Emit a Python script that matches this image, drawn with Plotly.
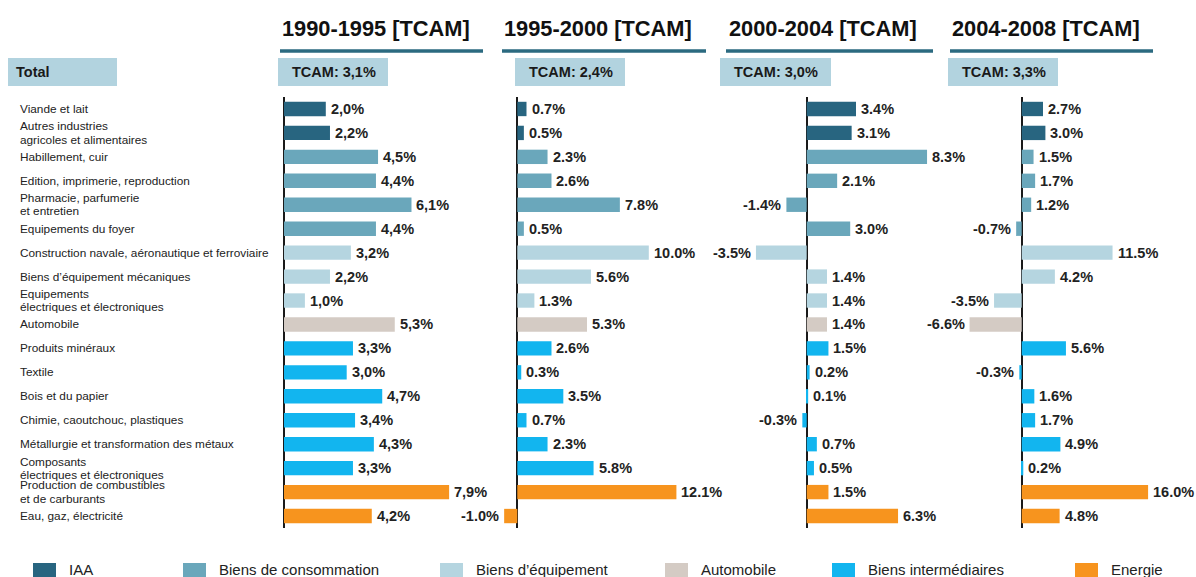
import plotly.graph_objects as go

W, H = 1196, 577

categories = [
    "Viande et lait",
    "Autres industries<br>agricoles et alimentaires",
    "Habillement, cuir",
    "Edition, imprimerie, reproduction",
    "Pharmacie, parfumerie<br>et entretien",
    "Equipements du foyer",
    "Construction navale, aéronautique et ferroviaire",
    "Biens d’équipement mécaniques",
    "Equipements<br>électriques et électroniques",
    "Automobile",
    "Produits minéraux",
    "Textile",
    "Bois et du papier",
    "Chimie, caoutchouc, plastiques",
    "Métallurgie et transformation des métaux",
    "Composants<br>électriques et électroniques",
    "Production de combustibles<br>et de carburants",
    "Eau, gaz, électricité",
]
# group index of each category
groups = [0, 0, 1, 1, 1, 1, 2, 2, 2, 3, 4, 4, 4, 4, 4, 4, 5, 5]

group_names = ["IAA", "Biens de consommation", "Biens d’équipement",
               "Automobile", "Biens intermédiaires", "Energie"]
group_colors = ["#286580", "#6aa7bb", "#b5d5e0", "#d4cbc4", "#12b5ef", "#f7941e"]

periods = ["1990-1995 [TCAM]", "1995-2000 [TCAM]", "2000-2004 [TCAM]", "2004-2008 [TCAM]"]
tcam_total = ["TCAM: 3,1%", "TCAM: 2,4%", "TCAM: 3,0%", "TCAM: 3,3%"]

v_1990_1995 = [2.0, 2.2, 4.5, 4.4, 6.1, 4.4, 3.2, 2.2, 1.0, 5.3, 3.3, 3.0, 4.7, 3.4, 4.3, 3.3, 7.9, 4.2]
v_1995_2000 = [0.7, 0.5, 2.3, 2.6, 7.8, 0.5, 10.0, 5.6, 1.3, 5.3, 2.6, 0.3, 3.5, 0.7, 2.3, 5.8, 12.1, -1.0]
v_2000_2004 = [3.4, 3.1, 8.3, 2.1, -1.4, 3.0, -3.5, 1.4, 1.4, 1.4, 1.5, 0.2, 0.1, -0.3, 0.7, 0.5, 1.5, 6.3]
v_2004_2008 = [2.7, 3.0, 1.5, 1.7, 1.2, -0.7, 11.5, 4.2, -3.5, -6.6, 5.6, -0.3, 1.6, 1.7, 4.9, 0.2, 16.0, 4.8]
series = [v_1990_1995, v_1995_2000, v_2000_2004, v_2004_2008]
decimal_sep = [",", ".", ".", "."]

# ---- layout geometry (pixels) ----
FONT = "Arial, Liberation Sans, sans-serif"
zero_px = [284.0, 517.3, 806.7, 1021.7]
px_per_unit = [20.9, 13.15, 14.5, 7.9]
dom_px = [(262, 498), (499, 703), (704, 941), (942, 1196)]
y_top, y_bot = 97.0, 528.0
title_x = [280, 502, 727, 950]
line_x = [(280, 483), (502, 706), (726, 933), (950, 1153)]
box_x = [(278, 388), (515, 625), (720, 831), (948, 1058)]


def px(x):
    return x / W


def py(y):
    return 1 - y / H


n = len(categories)
rows = list(range(n))
bar_colors = [group_colors[g] for g in groups]

fig = go.Figure()
annotations = []
shapes = []
layout_axes = {}

for i, vals in enumerate(series):
    sfx = "" if i == 0 else str(i + 1)
    fig.add_trace(go.Bar(
        x=vals, y=rows, orientation="h", width=0.6,
        marker=dict(color=bar_colors, line=dict(width=0)),
        xaxis="x" + sfx, yaxis="y" + sfx, hoverinfo="skip", showlegend=False,
    ))
    d0, d1 = dom_px[i]
    xr = [(d0 - zero_px[i]) / px_per_unit[i], (d1 - zero_px[i]) / px_per_unit[i]]
    layout_axes["xaxis" + sfx] = dict(
        domain=[px(d0), px(d1)], range=xr, anchor="y" + sfx,
        showgrid=False, showticklabels=False, ticks="",
        zeroline=True, zerolinecolor="#1a1a1a", zerolinewidth=1.6,
        showline=False, fixedrange=True,
    )
    layout_axes["yaxis" + sfx] = dict(
        domain=[py(y_bot), py(y_top)], range=[n - 0.5, -0.5], anchor="x" + sfx,
        showgrid=False, showticklabels=False, ticks="", zeroline=False,
        showline=False, fixedrange=True,
    )
    # value labels
    for r, v in enumerate(vals):
        txt = f"{v:.1f}".replace(".", decimal_sep[i]) + "%"
        annotations.append(dict(
            x=v, y=r, xref="x" + sfx, yref="y" + sfx, text="<b>" + txt + "</b>", showarrow=False,
            xanchor="left" if v >= 0 else "right", xshift=3 if v >= 0 else -3,
            yanchor="middle", font=dict(family=FONT, size=14.5, color="#222222"),
        ))
    # header title
    annotations.append(dict(
        x=px(title_x[i]), y=py(28), xref="paper", yref="paper", text="<b>" + periods[i] + "</b>",
        showarrow=False, xanchor="left", yanchor="middle",
        font=dict(family=FONT, size=21.8, color="#111111"),
    ))
    shapes.append(dict(type="line", xref="paper", yref="paper",
                       x0=px(line_x[i][0]), x1=px(line_x[i][1]), y0=py(51), y1=py(51),
                       line=dict(color="#2b6a80", width=3.5)))
    # TCAM box
    shapes.append(dict(type="rect", xref="paper", yref="paper",
                       x0=px(box_x[i][0]), x1=px(box_x[i][1]), y0=py(86), y1=py(58),
                       fillcolor="#b2d3df", line=dict(width=0), layer="below"))
    annotations.append(dict(
        x=px(box_x[i][0] + 12), y=py(72), xref="paper", yref="paper",
        text="<b>" + tcam_total[i] + "</b>", showarrow=False, xanchor="left", yanchor="middle",
        font=dict(family=FONT, size=14.5, color="#1a1a1a"),
    ))

# Total box
shapes.append(dict(type="rect", xref="paper", yref="paper", x0=px(8), x1=px(117),
                   y0=py(86), y1=py(58), fillcolor="#b2d3df", line=dict(width=0), layer="below"))
annotations.append(dict(x=px(14), y=py(72), xref="paper", yref="paper", text="<b>Total</b>",
                        showarrow=False, xanchor="left", yanchor="middle",
                        font=dict(family=FONT, size=14.5, color="#1a1a1a")))

# category labels
for r, cat in enumerate(categories):
    lines = cat.split("<br>")
    k = len(lines)
    for j, ln in enumerate(lines):
        shift = ((k - 1) / 2 - j) * 13.2
        annotations.append(dict(
            x=px(18), y=r, xref="paper", yref="y", text=ln, showarrow=False,
            xanchor="left", yanchor="middle", yshift=shift,
            font=dict(family=FONT, size=11.8, color="#222222"),
        ))

# legend (manual)
legend_sw_x = [33, 183, 440, 665, 832, 1075]
for g, name in enumerate(group_names):
    x0 = legend_sw_x[g]
    shapes.append(dict(type="rect", xref="paper", yref="paper", x0=px(x0), x1=px(x0 + 23),
                       y0=py(578), y1=py(563), fillcolor=group_colors[g], line=dict(width=0)))
    annotations.append(dict(x=px(x0 + 34), y=py(569), xref="paper", yref="paper", text=name,
                            showarrow=False, xanchor="left", yanchor="middle",
                            font=dict(family=FONT, size=15, color="#222222")))

fig.update_layout(
    width=W, height=H, margin=dict(l=0, r=0, t=0, b=0),
    paper_bgcolor="white", plot_bgcolor="white", showlegend=False,
    bargap=0.4, annotations=annotations, shapes=shapes, **layout_axes,
)

fig.write_html(
    "out.html",
    config={"displayModeBar": False},
    post_script="document.body.style.margin='0';document.body.style.overflow='hidden';",
)
